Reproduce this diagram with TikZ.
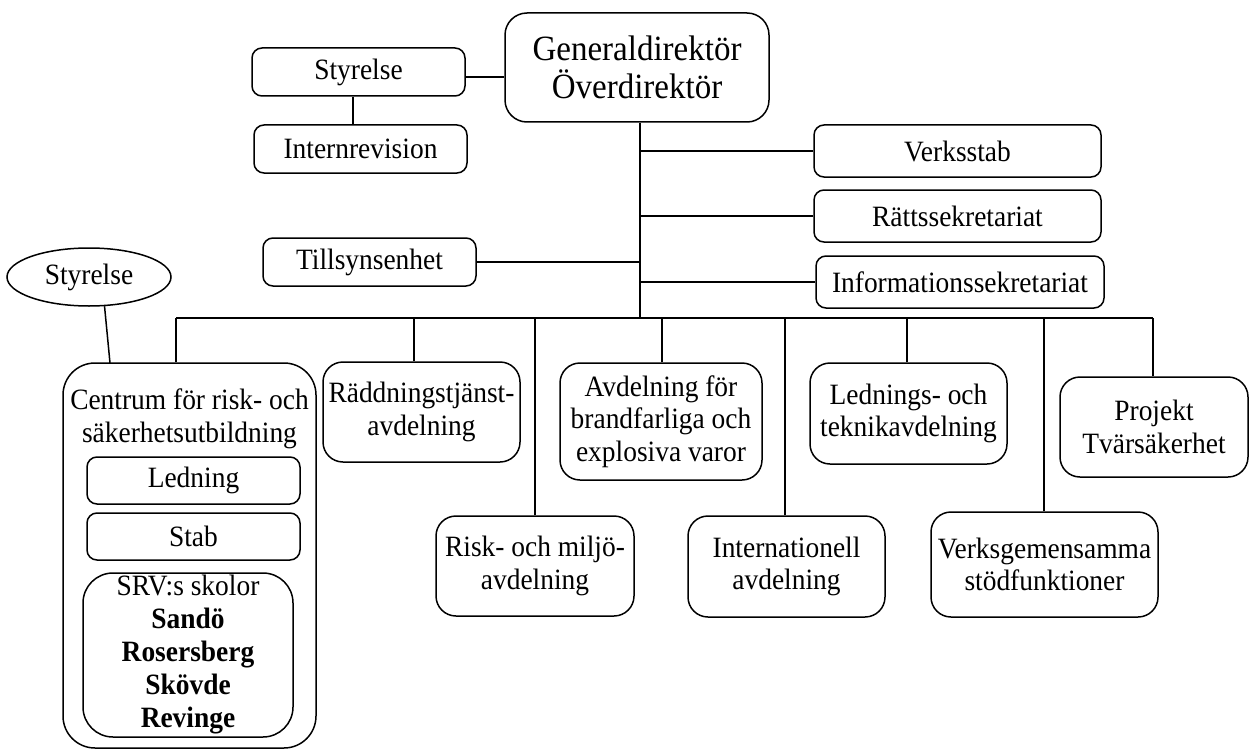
\documentclass[tikz,border=0pt]{standalone}
\usepackage{fontspec}
\setmainfont[FakeStretch=0.93]{Liberation Serif}
\usetikzlibrary{shapes.geometric}
\begin{document}
\begin{tikzpicture}[x=1pt,y=-1pt,
  line width=1.5pt,
  txt/.style={font=\fontsize{29.5}{32.5}\selectfont, align=center, inner sep=0pt},
  sbox/.style={txt, draw, rounded corners=10pt},
  bbox/.style={txt, draw, rounded corners=20pt},
  conn/.style={line width=1.5pt}
]
\useasboundingbox (0,0) rectangle (1249,749);

% top level
\node[draw, rounded corners=22pt, inner sep=0pt, align=center,
      font=\fontsize{35.5}{38}\selectfont,
      minimum width=264pt, minimum height=109pt] (GD) at (637,67.5) {Generaldirektör\\Överdirektör};
\node[sbox, minimum width=213pt, minimum height=48pt] (Sty) at (358.5,72) {Styrelse};
\node[sbox, minimum width=213pt, minimum height=48pt] (Int) at (360.5,149) {Internrevision};
\node[sbox, minimum width=213pt, minimum height=48pt] (Til) at (369.5,262) {Tillsynsenhet};
\node[sbox, minimum width=287pt, minimum height=52pt] (Ver) at (957.5,151) {Verksstab};
\node[sbox, minimum width=287pt, minimum height=52pt] (Rat) at (957.5,216) {Rättssekretariat};
\node[sbox, minimum width=288pt, minimum height=52pt] (Inf) at (960,282) {Informationssekretariat};

% ellipse
\node[txt, draw, ellipse, minimum width=164pt, minimum height=58pt] (Ell) at (89,277) {Styrelse};

% Centrum
\node[draw, rounded corners=32pt, minimum width=253pt, minimum height=385pt, inner sep=0pt] (Cen) at (189.5,555.5) {};
\node[txt] (CenT) at (189.5,419) {Centrum för risk- och\\säkerhetsutbildning};
\node[sbox, minimum width=213pt, minimum height=47pt] (Led) at (193.5,480.5) {Ledning};
\node[sbox, minimum width=213pt, minimum height=47pt] (Stab) at (193.5,536.5) {Stab};
\node[txt, draw, rounded corners=30pt, minimum width=210pt, minimum height=164pt,
      font=\fontsize{29.5}{33}\selectfont] (SRV) at (188,655)
      {SRV:s skolor\\\textbf{Sandö}\\\textbf{Rosersberg}\\\textbf{Skövde}\\\textbf{Revinge}};

% departments
\node[bbox, minimum width=197pt, minimum height=100pt] (Rad) at (421.5,412) {Räddningstjänst-\\avdelning};
\node[bbox, minimum width=198pt, minimum height=100pt] (Ris) at (535,566) {Risk- och miljö-\\avdelning};
\node[bbox, minimum width=202pt, minimum height=117pt] (Avd) at (661,421.5) {Avdelning för\\brandfarliga och\\explosiva varor};
\node[bbox, minimum width=197pt, minimum height=101pt] (Ina) at (786.5,566.5) {Internationell\\avdelning};
\node[bbox, minimum width=197pt, minimum height=101pt] (Lte) at (908.5,413.5) {Lednings- och\\teknikavdelning};
\node[bbox, minimum width=227pt, minimum height=105pt] (Vsf) at (1044.5,564.5) {Verksgemensamma\\stödfunktioner};
\node[bbox, minimum width=188pt, minimum height=100pt] (Pro) at (1154,427) {Projekt\\Tvärsäkerhet};

% connectors
\coordinate (t) at (640,318);
\coordinate (busL) at (176,318);
\coordinate (busR) at (1153,318);
\coordinate (ce) at (110,363);

\draw[conn] (t |- GD.south) -- (t);
\draw[conn] (busL) -- (busR);
\draw[conn] (Sty.east |- 0,77) -- (GD.west |- 0,77);
\draw[conn] (Sty.south -| 353,0) -- (Int.north -| 353,0);
\draw[conn] (Til.east) -- (Til.east -| t);
\draw[conn] (Ver.west) -- (Ver.west -| t);
\draw[conn] (Rat.west) -- (Rat.west -| t);
\draw[conn] (Inf.west) -- (Inf.west -| t);
\draw[conn] (Cen.north -| busL) -- (busL);
\draw[conn] (Ell.-62) -- (ce);
\draw[conn] (Rad.north -| 414,0) -- (busL -| 414,0);
\draw[conn] (Ris.north) -- (Ris.north |- busL);
\draw[conn] (Avd.north -| 662,0) -- (busL -| 662,0);
\draw[conn] (Ina.north -| 785,0) -- (busL -| 785,0);
\draw[conn] (Lte.north -| 907,0) -- (busL -| 907,0);
\draw[conn] (Vsf.north -| 1044,0) -- (busL -| 1044,0);
\draw[conn] (Pro.north -| busR) -- (busR);
\end{tikzpicture}
\end{document}
